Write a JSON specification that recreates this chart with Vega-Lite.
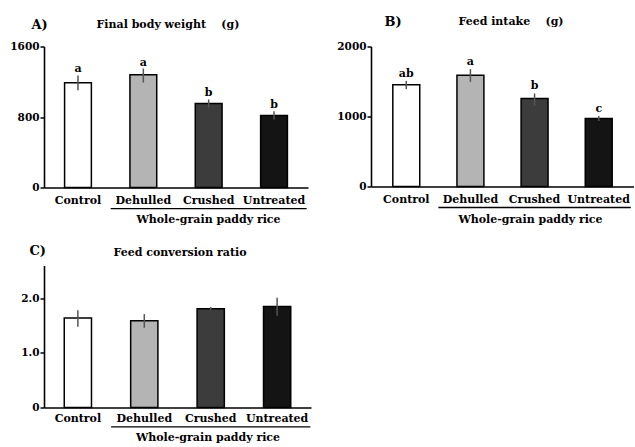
{
  "$schema": "https://vega.github.io/schema/vega-lite/v6.json",
  "padding": {"left": 9, "top": 15.5, "right": 0, "bottom": 0},
  "background": "white",
  "bounds": "flush",
  "columns": 2,
  "spacing": {"row": 78, "column": 60},
  "config": {
    "view": {"stroke": null},
    "font": "DejaVu Serif",
    "axis": {
      "labelFont": "DejaVu Serif", "labelFontWeight": "bold", "labelColor": "black",
      "titleFont": "DejaVu Serif", "titleFontWeight": "bold", "titleColor": "black",
      "domainColor": "black", "domainWidth": 1.6, "tickColor": "black", "tickWidth": 1.5, "grid": false
    },
    "title": {"font": "DejaVu Serif", "fontWeight": "bold", "fontSize": 11, "color": "black"},
    "text": {"font": "DejaVu Serif", "fontWeight": "bold", "fontSize": 11, "color": "black"}
  },
  "datasets": {
    "A": [
      {"treatment": "Control", "mean": 1188, "lo": 1104, "hi": 1271, "letter": "a"},
      {"treatment": "Dehulled", "mean": 1279, "lo": 1191, "hi": 1350, "letter": "a"},
      {"treatment": "Crushed", "mean": 953, "lo": 908, "hi": 999, "letter": "b"},
      {"treatment": "Untreated", "mean": 817, "lo": 772, "hi": 866, "letter": "b"}
    ],
    "B": [
      {"treatment": "Control", "mean": 1452, "lo": 1391, "hi": 1509, "letter": "ab"},
      {"treatment": "Dehulled", "mean": 1591, "lo": 1495, "hi": 1677, "letter": "a"},
      {"treatment": "Crushed", "mean": 1257, "lo": 1151, "hi": 1329, "letter": "b"},
      {"treatment": "Untreated", "mean": 971, "lo": 936, "hi": 1008, "letter": "c"}
    ],
    "C": [
      {"treatment": "Control", "mean": 1.64, "lo": 1.48, "hi": 1.78},
      {"treatment": "Dehulled", "mean": 1.59, "lo": 1.46, "hi": 1.71},
      {"treatment": "Crushed", "mean": 1.81, "lo": 1.78, "hi": 1.84},
      {"treatment": "Untreated", "mean": 1.85, "lo": 1.68, "hi": 2.01}
    ],
    "bracket": [{"start": "Dehulled", "end": "Untreated"}]
  },
  "concat": [
    {
      "width": 264, "height": 141,
      "data": {"name": "A"},
      "title": {"text": "Final body weight\u00a0\u00a0\u00a0\u00a0(g)", "anchor": "middle", "frame": "group", "dx": -8, "baseline": "middle", "offset": -17.5},
      "encoding": {
        "x": {"field": "treatment", "type": "nominal", "title": "Whole-grain paddy rice",
          "scale": {"domain": ["Control", "Dehulled", "Crushed", "Untreated"], "paddingInner": 0, "paddingOuter": 0.02},
          "axis": {"titleX": 164, "titleY": 32, "titleAlign": "center", "titleBaseline": "middle", "titleAngle": 0, "titleFontSize": 11,
            "labelAngle": 0, "ticks": false, "labelPadding": 7, "labelFontSize": 11}}
      },
      "layer": [
        {"mark": {"type": "bar", "width": {"band": 0.41}, "stroke": "black", "strokeWidth": 1.5},
         "encoding": {
           "y": {"field": "mean", "type": "quantitative", "title": "A)", "scale": {"domain": [0, 1600]},
             "axis": {"values": [0, 400, 800, 1200, 1600], "format": "d", "labelExpr": "datum.value % 800 === 0 ? datum.label : ''",
               "tickSize": 4, "labelPadding": 1, "labelFontSize": 10.5,
               "titleAngle": 0, "titleX": -13, "titleY": -22.5, "titleAlign": "left", "titleBaseline": "middle", "titleFontSize": 13}},
           "fill": {"field": "treatment", "type": "nominal", "scale": {"domain": ["Control", "Dehulled", "Crushed", "Untreated"], "range": ["#ffffff", "#b4b4b4", "#3c3c3c", "#141414"]}, "legend": null}
         }},
        {"mark": {"type": "rule", "color": "#555555", "strokeWidth": 1.5},
         "encoding": {"y": {"field": "lo", "type": "quantitative", "title": "A)"}, "y2": {"field": "hi"}}},
        {"mark": {"type": "text", "baseline": "alphabetic", "dy": -3},
         "encoding": {"y": {"field": "hi", "type": "quantitative", "title": "A)"}, "text": {"field": "letter"}}},
        {"data": {"name": "bracket"},
         "mark": {"type": "rule", "color": "black", "strokeWidth": 1.3},
         "encoding": {"x": {"field": "start", "type": "nominal", "bandPosition": 0, "title": "Whole-grain paddy rice"}, "x2": {"field": "end", "bandPosition": 1}, "y": {"datum": -240, "type": "quantitative", "title": "A)"}}}
      ]
    },
    {
      "width": 263, "height": 140,
      "data": {"name": "B"},
      "title": {"text": "Feed intake\u00a0\u00a0\u00a0\u00a0(g)", "anchor": "middle", "frame": "group", "dx": 8.5, "baseline": "middle", "offset": -17.5},
      "encoding": {
        "x": {"field": "treatment", "type": "nominal", "title": "Whole-grain paddy rice",
          "scale": {"domain": ["Control", "Dehulled", "Crushed", "Untreated"], "paddingInner": 0, "paddingOuter": 0.05},
          "axis": {"titleX": 159, "titleY": 33, "titleAlign": "center", "titleBaseline": "middle", "titleAngle": 0, "titleFontSize": 11,
            "labelAngle": 0, "ticks": false, "labelPadding": 7, "labelFontSize": 11}}
      },
      "layer": [
        {"mark": {"type": "bar", "width": {"band": 0.42}, "stroke": "black", "strokeWidth": 1.5},
         "encoding": {
           "y": {"field": "mean", "type": "quantitative", "title": "B)", "scale": {"domain": [0, 2000]},
             "axis": {"values": [0, 500, 1000, 1500, 2000], "format": "d", "labelExpr": "datum.value % 1000 === 0 ? datum.label : ''",
               "tickSize": 4, "labelPadding": 1, "labelFontSize": 10.5,
               "titleAngle": 0, "titleX": 13, "titleY": -25, "titleAlign": "left", "titleBaseline": "middle", "titleFontSize": 13}},
           "fill": {"field": "treatment", "type": "nominal", "scale": {"domain": ["Control", "Dehulled", "Crushed", "Untreated"], "range": ["#ffffff", "#b4b4b4", "#3c3c3c", "#141414"]}, "legend": null}
         }},
        {"mark": {"type": "rule", "color": "#555555", "strokeWidth": 1.5},
         "encoding": {"y": {"field": "lo", "type": "quantitative", "title": "B)"}, "y2": {"field": "hi"}}},
        {"mark": {"type": "text", "baseline": "alphabetic", "dy": -4},
         "encoding": {"y": {"field": "hi", "type": "quantitative", "title": "B)"}, "text": {"field": "letter"}}},
        {"data": {"name": "bracket"},
         "mark": {"type": "rule", "color": "black", "strokeWidth": 1.3},
         "encoding": {"x": {"field": "start", "type": "nominal", "bandPosition": 0, "title": "Whole-grain paddy rice"}, "x2": {"field": "end", "bandPosition": 1}, "y": {"datum": -300, "type": "quantitative", "title": "B)"}}}
      ]
    },
    {
      "width": 267, "height": 142,
      "data": {"name": "C"},
      "title": {"text": "Feed conversion ratio", "anchor": "middle", "frame": "group", "dx": 2.5, "baseline": "middle", "offset": -19},
      "encoding": {
        "x": {"field": "treatment", "type": "nominal", "title": "Whole-grain paddy rice",
          "scale": {"domain": ["Control", "Dehulled", "Crushed", "Untreated"], "paddingInner": 0, "paddingOuter": 0.01},
          "axis": {"titleX": 163.5, "titleY": 30, "titleAlign": "center", "titleBaseline": "middle", "titleAngle": 0, "titleFontSize": 11,
            "labelAngle": 0, "ticks": false, "labelPadding": 5, "labelFontSize": 11}}
      },
      "layer": [
        {"mark": {"type": "bar", "width": {"band": 0.41}, "stroke": "black", "strokeWidth": 1.5},
         "encoding": {
           "y": {"field": "mean", "type": "quantitative", "title": "C)", "scale": {"domain": [0, 2.5]},
             "axis": {"values": [0, 1, 2], "labelExpr": "datum.value === 0 ? '0' : format(datum.value, '.1f')",
               "tickSize": 4, "labelPadding": 1, "labelFontSize": 10.5,
               "titleAngle": 0, "titleX": -15, "titleY": -15, "titleAlign": "left", "titleBaseline": "middle", "titleFontSize": 13}},
           "fill": {"field": "treatment", "type": "nominal", "scale": {"domain": ["Control", "Dehulled", "Crushed", "Untreated"], "range": ["#ffffff", "#b4b4b4", "#3c3c3c", "#141414"]}, "legend": null}
         }},
        {"mark": {"type": "rule", "color": "#555555", "strokeWidth": 1.5},
         "encoding": {"y": {"field": "lo", "type": "quantitative", "title": "C)"}, "y2": {"field": "hi"}}},
        {"data": {"name": "bracket"},
         "mark": {"type": "rule", "color": "black", "strokeWidth": 1.3},
         "encoding": {"x": {"field": "start", "type": "nominal", "bandPosition": 0, "title": "Whole-grain paddy rice"}, "x2": {"field": "end", "bandPosition": 1}, "y": {"datum": -0.353, "type": "quantitative", "title": "C)"}}}
      ]
    }
  ]
}
